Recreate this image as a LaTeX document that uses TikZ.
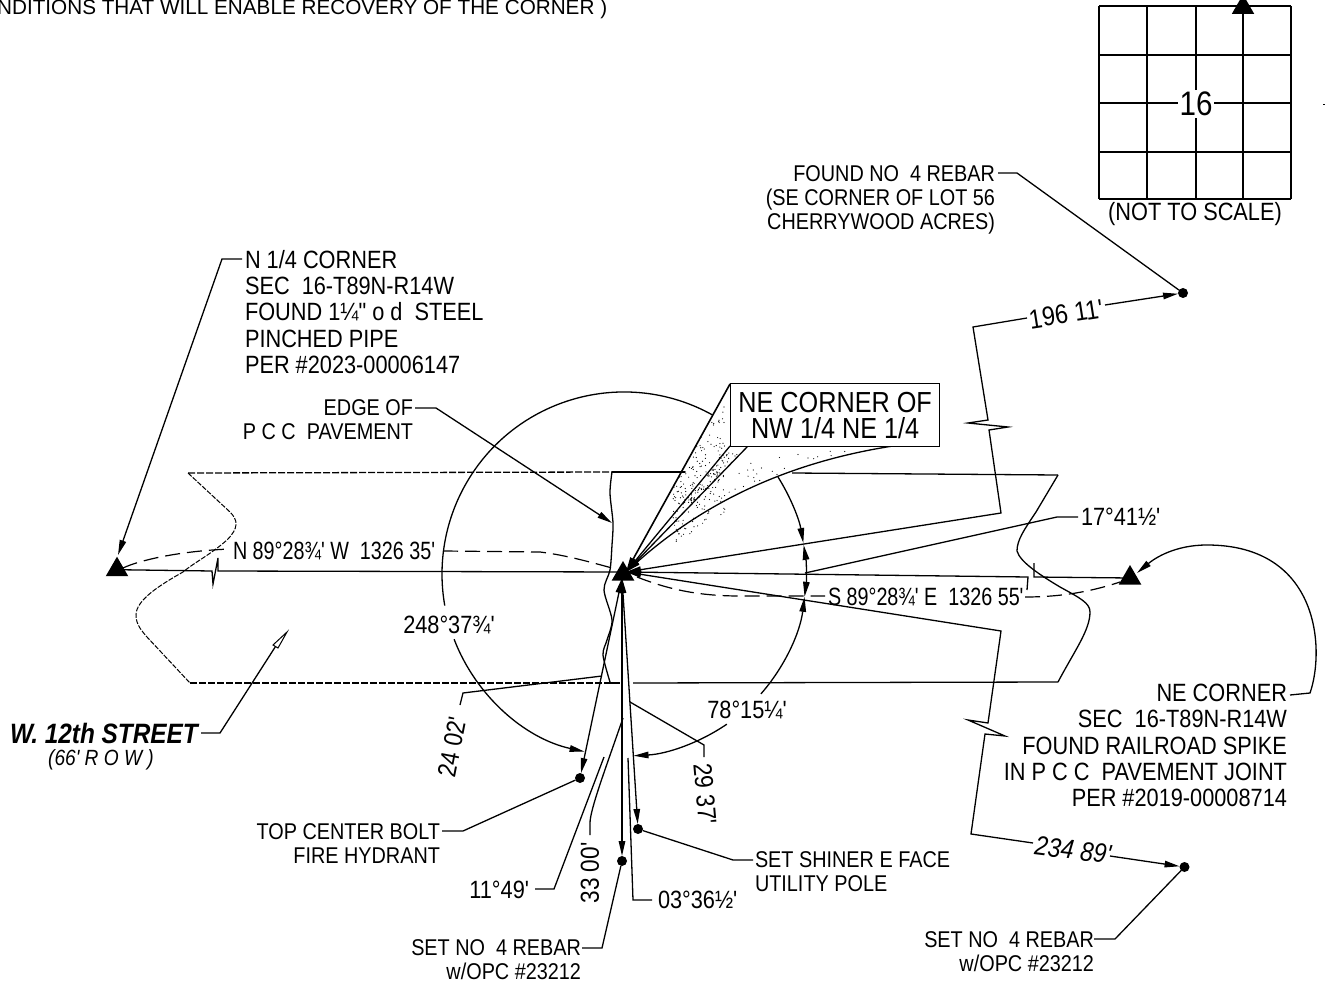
\documentclass[tikz,border=0pt]{standalone}
\usepackage{fontspec}
\usetikzlibrary{arrows.meta,shapes.geometric,calc}
\newfontfamily\lab{Liberation Sans}[FakeStretch=0.87]
\newfontfamily\labn{Liberation Sans}[FakeStretch=0.79]
\newfontfamily\labw{Liberation Sans}
\tikzset{
  lg/.style={font=\lab\fontsize{25}{26.3}\selectfont,inner sep=0pt,outer sep=0pt},
  sm/.style={font=\lab\fontsize{22.8}{23.8}\selectfont,inner sep=0pt,outer sep=0pt},
  tiedim/.style={font=\labn\fontsize{25}{26}\selectfont,inner sep=0pt,outer sep=0pt},
  wire/.style={line width=1.3pt,line join=miter},
  heavy/.style={line width=1.6pt},
  arr/.style={-{Stealth[length=15pt,width=6.5pt,inset=0pt]}},
  rarr/.style={{Stealth[length=15pt,width=6.5pt,inset=0pt]}-},
  barr/.style={{Stealth[length=15pt,width=6.5pt,inset=0pt]}-{Stealth[length=15pt,width=6.5pt,inset=0pt]}},
  tri/.style={regular polygon,regular polygon sides=3,fill=black,minimum size=26pt,inner sep=0pt,outer sep=0pt},
  dotn/.style={circle,fill=black,minimum size=10pt,inner sep=0pt,outer sep=0pt},
  fine/.style={line width=1pt,dash pattern=on 5pt off 1.5pt},
  road/.style={line width=1.3pt,dash pattern=on 7pt off 2pt},
  tie/.style={line width=1.2pt,dash pattern=on 15pt off 7pt},
}
\begin{document}
\begin{tikzpicture}[x=1pt,y=-1pt]
\useasboundingbox (0,0) rectangle (1325,984);
% header
\node[font=\labw\fontsize{20.7}{22}\selectfont,inner sep=0pt,anchor=base west] (hdr) at (-3,14.5) {NDITIONS THAT WILL ENABLE RECOVERY OF THE CORNER )};
% key points
\coordinate (O) at (624,574);
\coordinate (hub) at (626,572);
\coordinate (hubb) at (622,578);
\node[tri] (cen) at (623,574) {};
\node[tri] (west) at (117,569.7) {};
\node[tri] (east) at (1130,578) {};
\node[dotn] (rb1) at (1183,293) {};
\node[dotn] (rb2) at (1184.5,867) {};
\node[dotn] (hyd) at (580,778) {};
\node[dotn] (reb) at (622,861) {};
\node[dotn] (pole) at (638,829) {};
% road
\coordinate (rtl) at (188,473); \coordinate (rbl) at (190,683);
\coordinate (rtr) at (1058,475); \coordinate (rbr) at (1058,682);
\coordinate (ept) at (612,472);
\draw[road] (rtl) -- (ept);
\draw[wire] (ept) -- (685,472);
\draw[wire] (792,473) -- (rtr);
\draw[road] (rbl) -- (607,683);
\draw[wire] (607,683) -- (620,683);
\draw[wire] (633,683) -- (rbr);
\draw[fine] (rtl) -- (230,512) .. controls (238,520) and (239,528) .. (227,540) .. controls (210,555) and (195,562) .. (183,572) .. controls (160,585) and (136,600) .. (136,615) .. controls (136,625) and (142,631) .. (147,637) -- (rbl);
\draw[wire] (rtr) -- (1036,512) .. controls (1024,530) and (1017,540) .. (1017,551) .. controls (1020,562) and (1040,575) .. (1060,587) .. controls (1080,598) and (1090,603) .. (1090,612) .. controls (1090,630) and (1075,650) .. (rbr);
\draw[wire] plot[smooth] coordinates {(612,472) (610,493) (613,523) (612,545) (610,570) (604,590) (612,620) (607,640) (603,655) (610,682)};
% big circle arcs
\draw[wire] ($(O)+(-61:182)$) arc[start angle=-61,end angle=-190,radius=182];
\draw[wire,arr] ($(O)+(159:182)$) arc[start angle=159,end angle=102.5,radius=182];
\draw[wire,arr] ($(O)+(55.6:182)$) arc[start angle=55.6,end angle=87,radius=182];
\draw[wire,arr] ($(O)+(41.2:182)$) arc[start angle=41.2,end angle=7.2,radius=182];
\draw[wire,arr] ($(O)+(-32.2:182)$) arc[start angle=-32.2,end angle=-9.8,radius=182];
\draw[wire,barr] ($(O)+(-9.2:182)$) arc[start angle=-9.2,end angle=7.2,radius=182];
% survey ties
\draw[wire] (west.center) -- (212,571) -- (213,584) -- (218,558) -- (218,571) -- (hub);
\draw[wire,rarr] (hub) -- (1028,577) -- (1027,590);
\draw[wire] (1034,563) -- (1034,577) -- (east.center);
\draw[tie] (123,568) .. controls (140,560) and (180,551) .. (230,549);
\draw[tie] (443,551) -- (540,552) .. controls (565,555) and (590,562) .. (612,568);
\draw[tie] (637,577) .. controls (670,590) and (700,596) .. (740,596) -- (825,596);
\draw[tie] (1025,597) .. controls (1060,597) and (1090,592) .. (1120,582);
% radial to rebar NE
\draw[wire,rarr] (hub) -- (1001,513) -- (989,430) -- (1008,427) -- (968,423) -- (988,420) -- (973,327) -- (1027,318);
\node[lg,rotate=9,font=\lab\fontsize{27}{28}\selectfont] (d1) at (1066,314) {196 11'};
\draw[wire,arr] (1105,305) -- (rb1);
% radial to rebar SE
\draw[wire,rarr] (hub) -- (1001,631) -- (988,723) -- (968,720) -- (1005,736) -- (985,734) -- (971,834) -- (1033,843);
\node[lg,rotate=-7,font=\lab\itshape\fontsize{27}{28}\selectfont] (d2) at (1073,850) {234 89'};
\draw[wire,arr] (1110,856) -- (rb2);
% downward
\draw[wire,barr] (hubb) -- (hyd);
\draw[wire,barr] (hubb) -- (reb);
\draw[wire,barr] (hubb) -- (pole);
% wedge
\draw[heavy,rarr] (hub) -- (730,384);
\draw[wire,rarr] (hub) -- (730,446);
\draw[wire,rarr] (hub) -- (748,446);
\draw[wire,rarr] (hub) .. controls (690,515) and (770,465) .. (893,446);
\pgfmathsetseed{42}
\foreach \i in {1,...,170}{
  \pgfmathsetmacro{\t}{0.45+0.5*rnd}
  \pgfmathsetmacro{\s}{rnd}
  \pgfmathsetmacro{\qx}{626+\t*104}
  \pgfmathsetmacro{\qy}{572-\t*(188-\s*126)}
  \fill (\qx,\qy) circle[radius=.6];
}
\foreach \i in {1,...,70}{
  \pgfmathsetmacro{\t}{0.55+0.4*rnd}
  \pgfmathsetmacro{\s}{rnd}
  \pgfmathsetmacro{\qx}{626+\t*(104+\s*18)}
  \pgfmathsetmacro{\qy}{572-\t*126}
  \fill (\qx,\qy) circle[radius=.6];
}
\foreach \i in {1,...,30}{
  \pgfmathsetmacro{\t}{0.45+0.5*rnd}
  \pgfmathsetmacro{\s}{0.1+0.8*rnd}
  \pgfmathsetmacro{\ux}{(1-\t)^3*626+3*(1-\t)^2*\t*690+3*(1-\t)*\t*\t*770+\t^3*893}
  \pgfmathsetmacro{\uy}{(1-\t)^3*572+3*(1-\t)^2*\t*515+3*(1-\t)*\t*\t*465+\t^3*446}
  \pgfmathsetmacro{\vx}{626+\t*122}
  \pgfmathsetmacro{\vy}{572-\t*126}
  \fill ({\vx+\s*(\ux-\vx)},{\vy+\s*(\uy-\vy)}) circle[radius=.6];
}
\node[draw,line width=1.3pt,fill=white,minimum width=209pt,minimum height=63pt,inner sep=0pt,align=center,font=\lab\fontsize{29}{26}\selectfont,anchor=north west] (title) at (730,383) {NE CORNER OF\\NW 1/4 NE 1/4};
% N 1/4 corner
\node[lg,anchor=north west,align=left] (nq) at (245,250) {N 1/4 CORNER\\SEC~~16-T89N-R14W\\FOUND 1¼" o d~~STEEL\\PINCHED PIPE\\PER \#2023-00006147};
\draw[wire,arr] (242,259) -- (222,259) -- (118,555);
% edge of
\node[sm,anchor=north east,align=right] (edge) at (413,399.5) {EDGE OF\\P C C~~PAVEMENT};
\draw[wire,arr] (415,408) -- (436,408) -- (612,523);
% found rebar
\node[sm,anchor=north east,align=right] (fnd) at (995,166) {FOUND NO~~4 REBAR\\(SE CORNER OF LOT 56\\CHERRYWOOD ACRES)};
\draw[wire] (998,173) -- (1017,173) -- (rb1);
% NE corner block
\node[lg,anchor=north east,align=right] (nec) at (1287,684) {NE CORNER\\SEC~~16-T89N-R14W\\FOUND RAILROAD SPIKE\\IN P C C~~PAVEMENT JOINT\\PER \#2019-00008714};
\draw[wire,arr] (1290,695) -- (1310,693) .. controls (1325,650) and (1320,545) .. (1207,545) .. controls (1175,545) and (1155,558) .. (1137,573);
% dims on ties
\node[tiedim,anchor=west] (nb) at (233,551) {N 89°28¾' W~~1326 35'};
\node[tiedim,anchor=west] (sb) at (828,597) {S 89°28¾' E~~1326 55'};
\node[lg] (a1) at (449,625) {248°37¾'};
\node[lg] (a2) at (747,710) {78°15¼'};
\node[lg,anchor=west] (a3) at (1081,517) {17°41½'};
\draw[wire] (805,573) -- (1057,517) -- (1078,517);
\node[lg,anchor=east] (a4) at (529,890) {11°49'};
\draw[wire] (535,889) -- (554,889) -- (604,757);
\node[lg,anchor=west] (a5) at (658,900) {03°36½'};
\draw[wire] (652,900) -- (633,900) -- (628,758);
\node[lg,rotate=79,font=\lab\fontsize{26}{27}\selectfont] (l1) at (452,747) {24 02'};
\draw[wire] (602,676) -- (463,693) -- (460,705);
\node[lg,rotate=-85,font=\lab\fontsize{26}{27}\selectfont] (l2) at (705,794) {29 37'};
\draw[wire] (630,702) -- (704,745) -- (704,757);
\node[lg,rotate=90,font=\lab\fontsize{26}{27}\selectfont] (l3) at (590,873) {33 00'};
\draw[wire] (623,718) .. controls (605,770) and (590,810) .. (590,823) -- (590,835);
% street
\node[font=\lab\bfseries\itshape\fontsize{28}{29}\selectfont,inner sep=0pt,anchor=east] (st) at (198,733) {W. 12th STREET};
\node[font=\lab\itshape\fontsize{22}{23}\selectfont,inner sep=0pt] (row) at (101,760) {(66' R O W )};
\coordinate (stp) at (287,632);
\draw[wire] (201,733) -- (220,733) -- (275.5,646.5);
\draw[line width=1pt,fill=white] (stp) -- (273,645) -- (278,648) -- cycle;
% hydrant etc
\node[sm,anchor=north east,align=right] (hd) at (440,823.5) {TOP CENTER BOLT\\FIRE HYDRANT};
\draw[wire] (442,831) -- (463,831) -- (hyd);
\node[sm,anchor=north west,align=left] (sh) at (755,851.5) {SET SHINER E FACE\\UTILITY POLE};
\draw[wire] (753,860) -- (733,860) -- (pole);
\node[sm,anchor=north east,align=right] (sr) at (581,939.5) {SET NO~~4 REBAR\\w/OPC \#23212};
\draw[wire] (582,948) -- (602,948) -- (reb);
\node[sm,anchor=north east,align=right] (sr2) at (1094,931.5) {SET NO~~4 REBAR\\w/OPC \#23212};
\draw[wire] (1094,939) -- (1115,939) -- (rb2);
% section grid
\foreach \gx in {1099,1147,1196,1243,1291} \draw[wire] (\gx,6) -- (\gx,199);
\foreach \gy in {6,55,103,152,199} \draw[wire] (1099,\gy) -- (1291,\gy);
\node[tri] (npt) at (1243,7.5) {};
\node[font=\lab\fontsize{34}{35}\selectfont,fill=white,inner sep=1.5pt] (sec) at (1196,104) {16};
\node[lg] (nts) at (1195,214) {(NOT TO SCALE)};
\draw[line width=.8pt] (1323,104) -- (1325,104);
\end{tikzpicture}
\end{document}
